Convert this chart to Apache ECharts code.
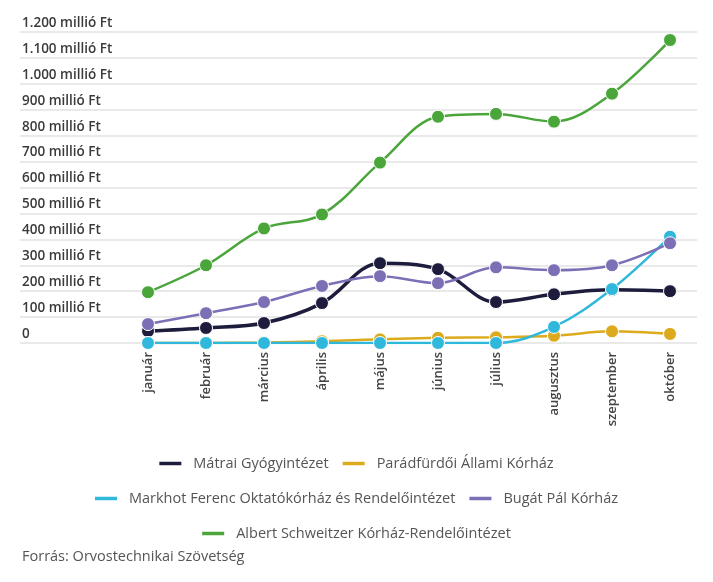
<!DOCTYPE html>
<html>
<head>
<meta charset="utf-8">
<script src="https://cdn.jsdelivr.net/npm/echarts@6/dist/echarts.min.js"></script>
<style>
html,body{margin:0;padding:0;background:#fff;}
#c{width:713px;height:582px;}
</style>
</head>
<body>
<div id="c"></div>
<script>
const months = ['január','február','március','április','május','június','július','augusztus','szeptember','október'];
const yTicks = [0,100,200,300,400,500,600,700,800,900,1000,1100,1200];
const matrai = [46,58,77,154,308,285,158,188,205,200];
const paradfurdoi = [0,0,2,7,14,20,22,28,45,35];
const markhot = [0,0,0,0,0,0,0,62,208,410];
const bugat = [73,115,158,220,258,231,292,281,300,385];
const schweitzer = [196,300,442,496,696,873,884,854,962,1169];

const names = ['Mátrai Gyógyintézet','Parádfürdői Állami Kórház','Markhot Ferenc Oktatókórház és Rendelőintézet','Bugát Pál Kórház','Albert Schweitzer Kórház-Rendelőintézet'];
const colors = ['#1d1c3d','#dcaa1c','#2fb8dc','#7d6fb6','#4aa53b'];
const values = [matrai, paradfurdoi, markhot, bugat, schweitzer];

function fmt(v){
  if(v===0) return '0';
  const s = String(v).replace(/\B(?=(\d{3})+(?!\d))/g,'.');
  return s + ' millió Ft';
}

const FONT = '"Open Sans", "Noto Sans", sans-serif';
const chart = echarts.init(document.getElementById('c'));
const legendText = {color:'#555', fontSize:14.5, fontFamily:FONT, padding:[0,0,0,7]};
function legendItems(idx){
  return idx.map(i=>({name:names[i], icon:'rect', itemStyle:{color:colors[i], borderWidth:0}}));
}
const legendCommon = {left:'center', itemWidth:22, itemHeight:3.5, itemGap:14, textStyle:legendText, selectedMode:false,
  itemStyle:{borderWidth:0}};

chart.setOption({
  backgroundColor:'#fff',
  animation:false,
  color: colors,
  grid:[
    {left:20, right:16, top:32, bottom:239},
    {left:119, right:14, top:32, bottom:239}
  ],
  xAxis:[
    {gridIndex:0, type:'value', show:false, min:0, max:1},
    {gridIndex:1, type:'category', data:months, boundaryGap:true,
     axisLine:{show:false}, axisTick:{show:false},
     axisLabel:{rotate:90, margin:9, color:'#444', fontSize:13, fontWeight:600, fontFamily:FONT, interval:0}}
  ],
  yAxis:[
    {gridIndex:0, type:'value', min:yTicks[0], max:yTicks[yTicks.length-1], interval:100,
     axisLine:{show:false}, axisTick:{show:false},
     splitLine:{show:true, lineStyle:{color:'#e2e2e2', width:1.5}},
     axisLabel:{inside:true, margin:2, verticalAlign:'bottom', lineHeight:18, color:'#3a3a3a', fontSize:13.5, fontWeight:600, fontFamily:FONT, formatter:fmt}},
    {gridIndex:1, type:'value', min:yTicks[0], max:yTicks[yTicks.length-1], interval:100, show:false}
  ],
  legend:[
    Object.assign({top:451, data:legendItems([0,1])}, legendCommon),
    Object.assign({top:486, data:legendItems([2,3])}, legendCommon),
    Object.assign({top:521, data:legendItems([4])}, legendCommon)
  ],
  graphic:[{type:'text', left:22, top:549, style:{text:'Forrás: Orvostechnikai Szövetség', fill:'#555', font:'14.5px "Open Sans", sans-serif'}}],
  series: values.map((v,i)=>({
    name:names[i], type:'line', xAxisIndex:1, yAxisIndex:1, data:v,
    smooth:0.35, symbol:'circle', symbolSize:13,
    lineStyle:{width: i===0 ? 3.5 : 2.5, color:colors[i]},
    itemStyle:{color:colors[i], borderColor:'#fff', borderWidth:1},
    z: 2+i
  }))
});
</script>
</body>
</html>
